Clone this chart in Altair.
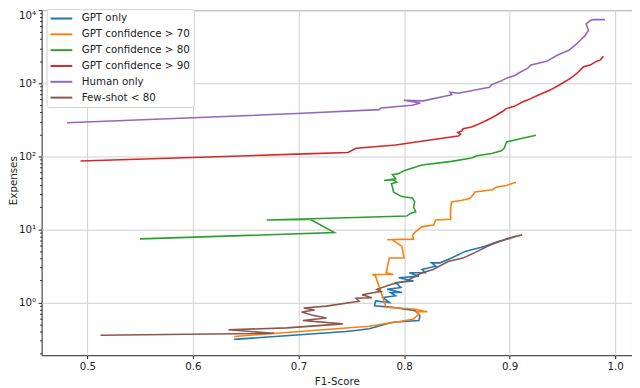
import altair as alt
import pandas as pd

series = ["GPT only", "GPT confidence > 70", "GPT confidence > 80",
          "GPT confidence > 90", "Human only", "Few-shot < 80"]
colors = ["#1f77b4", "#ff7f0e", "#2ca02c", "#d62728", "#9467bd", "#8c564b"]

blue_f1 = [0.639, 0.745, 0.752, 0.767, 0.778, 0.789, 0.814, 0.815, 0.811, 0.789, 0.772, 0.773,
           0.786, 0.780, 0.792, 0.787, 0.798, 0.784, 0.797, 0.792, 0.809, 0.795, 0.814,
           0.805, 0.820, 0.817, 0.830, 0.826, 0.834, 0.845, 0.858, 0.864, 0.876, 0.889,
           0.901, 0.906]
blue_exp = [0.312, 0.40, 0.41, 0.435, 0.482, 0.536, 0.564, 0.659, 0.769, 0.856, 0.900, 1.05,
            1.00, 1.17, 1.23, 1.37, 1.37, 1.51, 1.60, 1.87, 1.96, 2.18, 2.29, 2.55,
            2.55, 2.82, 3.13, 3.48, 3.48, 4.06, 4.99, 5.26, 5.83, 6.82, 7.58, 8.14]

orange_f1 = [0.639, 0.767, 0.780, 0.792, 0.809, 0.814, 0.811, 0.822, 0.809, 0.783,
             0.773, 0.770, 0.790, 0.783, 0.786, 0.800, 0.798, 0.789, 0.784, 0.809,
             0.808, 0.811, 0.817, 0.828, 0.830, 0.844, 0.844, 0.845, 0.855, 0.862,
             0.865, 0.867, 0.884, 0.887, 0.897, 0.906]
orange_exp = [0.342, 0.473, 0.508, 0.536, 0.594, 0.695, 0.746, 0.746, 0.812, 0.856,
              2.29, 2.41, 2.41, 2.55, 4.06, 4.06, 5.83, 7.19, 7.19, 7.35,
              8.40, 9.31, 10.9, 11.5, 13.4, 13.7, 18.3, 23.7, 25.0, 26.4,
              29.2, 32.4, 34.9, 37.8, 39.9, 44.2]

green_f1 = [0.550, 0.734, 0.711, 0.670, 0.713, 0.8025, 0.806, 0.811, 0.809, 0.810,
            0.808, 0.801, 0.797, 0.790, 0.789, 0.788, 0.793, 0.790, 0.781, 0.792,
            0.789, 0.794, 0.800, 0.808, 0.817, 0.845, 0.864, 0.869, 0.883, 0.892,
            0.895, 0.897, 0.908, 0.925]
green_exp = [7.41, 9.02, 13.7, 13.4, 13.95, 15.2, 16.5, 17.4, 20.3, 23.7,
             26.9, 27.7, 28.3, 32.4, 37.8, 42.1, 44.2, 47.6, 46.6, 49.1,
             56.2, 57.4, 63.6, 69.2, 76.0, 85.1, 94.6, 101.6, 109.1, 118.6,
             129.1, 157.1, 171, 193.6]

red_f1 = [0.4934, 0.6983, 0.7468, 0.7546, 0.792, 0.8295, 0.8513, 0.8535, 0.8510, 0.8545,
          0.856, 0.8639, 0.8686, 0.8779, 0.8857, 0.8935, 0.8967, 0.9044, 0.9130,
          0.9169, 0.9263, 0.9388, 0.9482, 0.9576, 0.9637, 0.970, 0.9763, 0.9825,
          0.9857, 0.9888]
red_exp = [86.1, 107, 112.5, 129, 143, 171, 189, 200, 212, 221,
           238, 251, 267, 309, 353, 413, 449, 482, 560,
           587, 679, 811, 966, 1165, 1361, 1678, 1769, 2004,
           2066, 2340]

purple_f1 = [0.4806, 0.6983, 0.7764, 0.778, 0.8077, 0.8154, 0.7998, 0.8183, 0.8451,
             0.8436, 0.8513, 0.8639, 0.8732, 0.881, 0.8826, 0.8904, 0.8982, 0.9044,
             0.9107, 0.9169, 0.9201, 0.9263, 0.9356, 0.945, 0.956, 0.9637, 0.9716,
             0.9747, 0.9725, 0.9763, 0.9794, 0.9903]
purple_exp = [287, 384, 435, 457, 498, 535, 585, 573, 695,
              753, 730, 787, 837, 880, 948, 1051, 1191, 1267,
              1435, 1591, 1769, 1858, 2004, 2415, 2823, 3467, 4505,
              5263, 6467, 7191, 7413, 7413]

brown_f1 = [0.5124, 0.6768, 0.6337, 0.689, 0.7419, 0.704, 0.7264, 0.7124, 0.703,
            0.7152, 0.7049, 0.7264, 0.7574, 0.7545, 0.7695, 0.7602, 0.778, 0.7742,
            0.7883, 0.8023, 0.8164, 0.8276, 0.8417, 0.8557, 0.867, 0.881, 0.8988,
            0.9119]
brown_exp = [0.356, 0.378, 0.422, 0.449, 0.509, 0.567, 0.613, 0.673, 0.739,
             0.787, 0.838, 0.891, 1.04, 1.14, 1.16, 1.27, 1.42, 1.51,
             1.77, 1.97, 2.53, 2.82, 3.62, 4.04, 4.80, 6.05, 7.53,
             8.40]

x_ticks = [0.5, 0.6, 0.7, 0.8, 0.9, 1.0]
y_ticks = [m * 10 ** e for e in range(-1, 4) for m in range(1, 10)] + [10000]
y_ticks = [v for v in y_ticks if v >= 0.19]

all_f1 = [blue_f1, orange_f1, green_f1, red_f1, purple_f1, brown_f1]
all_exp = [blue_exp, orange_exp, green_exp, red_exp, purple_exp, brown_exp]

rows = []
for s, f1s, exps in zip(series, all_f1, all_exp):
    assert len(f1s) == len(exps), s
    for i, (a, b) in enumerate(zip(f1s, exps)):
        rows.append({"series": s, "i": i, "f1": a, "exp": b})
df = pd.DataFrame(rows)

FONT = "DejaVu Sans"
FS = 10.4
decade = "abs(log(datum.value)/LN10 - round(log(datum.value)/LN10)) < 0.01"
label_expr = ("(" + decade + ") ? ('10' + ['\u207b\u00b9','\u2070','\u00b9','\u00b2','\u00b3','\u2074']"
              "[round(log(datum.value)/LN10) + 1]) : ''")

x_enc = alt.X(
    "f1:Q",
    scale=alt.Scale(domain=[0.45662, 1.01593], nice=False, zero=False),
    axis=alt.Axis(values=x_ticks, format=".1f", title="F1-Score", tickSize=3.5,
                  labelPadding=2.5, titleY=27, titleBaseline="middle"),
)
y_enc = alt.Y(
    "exp:Q",
    scale=alt.Scale(type="log", domain=[0.1894, 10000], nice=False),
    axis=alt.Axis(
        values=y_ticks,
        labelExpr=label_expr,
        labelFlush=True,
        tickSize={"condition": {"test": decade, "value": 3.5}, "value": 2},
        gridOpacity={"condition": {"test": decade, "value": 1}, "value": 0},
        labelPadding=2.5,
        title="Expenses",
        titleX=-33,
        titleY=172,
        titleAngle=270,
        titleBaseline="top",
        titleAlign="center",
    ),
)
color_enc = alt.Color(
    "series:N",
    scale=alt.Scale(domain=series, range=colors),
    legend=alt.Legend(
        title=None, orient="none", legendX=5, legendY=-1,
        symbolType="M-2.2,0H2.2", symbolSize=100, symbolStrokeWidth=2,
        symbolOffset=5.5,
        labelFontSize=FS, labelFont=FONT, labelColor="#222",
        fillColor="white", strokeColor="#d0d0d0", cornerRadius=3,
        padding=3.5, rowPadding=4, labelOffset=14.5,
    ),
)

layers = [
    alt.Chart(df)
    .transform_filter(alt.datum.series == s)
    .mark_line(strokeWidth=1.6, clip=True)
    .encode(x=x_enc, y=y_enc, color=color_enc, order="i:Q")
    for s in series
]

chart = (
    alt.layer(*layers)
    .properties(
        width=597, height=349,
        autosize=alt.AutoSizeParams(type="none"),
        padding={"left": 34, "top": 0, "right": 0, "bottom": 31},
    )
    .configure_view(stroke="#222", strokeWidth=1)
    .configure_axis(
        domain=False, grid=True, gridColor="#cfcfcf", gridWidth=1,
        tickColor="#222", labelColor="#222", titleColor="#222",
        labelFont=FONT, titleFont=FONT, labelFontSize=FS, titleFontSize=FS,
        titleFontWeight="normal",
    )
)

chart.save("out.html", embed_options={"renderer": "svg", "actions": False})
